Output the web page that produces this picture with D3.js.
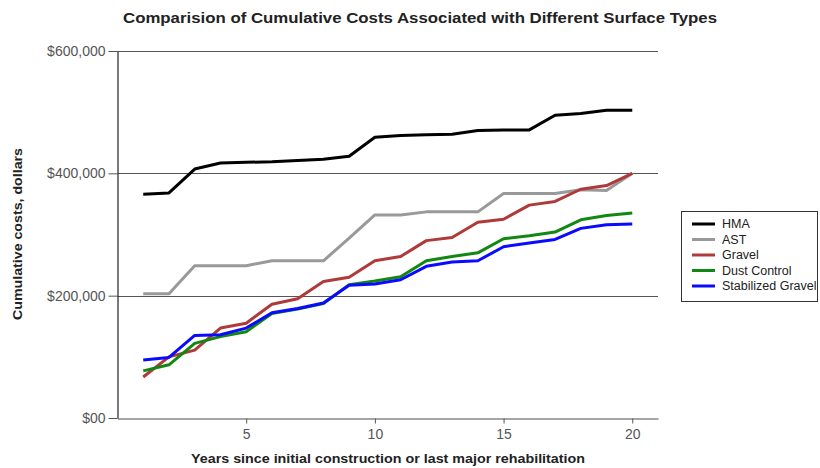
<!DOCTYPE html>
<html lang="en">
<head>
  <meta charset="UTF-8">
  <title>Cumulative Costs by Surface Type</title>
  <script src="https://d3js.org/d3.v7.min.js"></script>
  <style>
    body {
      margin: 0;
      padding: 0;
      background: #fff;
      font-family: 'Liberation Sans', Arial, sans-serif;
    }
    svg text { fill: #222; }
    .tick-label { fill: #555; }
  </style>
</head>
<body>
  <div id="chart"></div>

  <script>
    // Years on the x axis
    const years = [1, 2, 3, 4, 5, 6, 7, 8, 9, 10, 11, 12, 13, 14, 15, 16, 17, 18, 19, 20];

    // Cumulative costs, dollars
    const hma = [366000, 368000, 407000, 417000, 418000, 419000, 421000, 423000, 428000, 459000,
                 462000, 463000, 464000, 470000, 471000, 471000, 495000, 498000, 503000, 503000];
    const ast = [203000, 203000, 249000, 249000, 249000, 257000, 257000, 257000, 294000, 332000,
                 332000, 337000, 337000, 337000, 367000, 367000, 367000, 373000, 372000, 400000];
    const gravel = [67000, 100000, 111000, 147000, 155000, 186000, 195000, 223000, 230000, 257000,
                    264000, 290000, 295000, 320000, 325000, 348000, 354000, 374000, 380000, 400000];
    const dustControl = [77000, 87000, 122000, 133000, 141000, 171000, 178000, 187000, 218000, 224000,
                         231000, 257000, 264000, 270000, 293000, 298000, 304000, 324000, 331000, 335000];
    const stabilizedGravel = [95000, 99000, 135000, 136000, 147000, 172000, 179000, 188000, 217000, 219000,
                              226000, 248000, 255000, 257000, 280000, 286000, 292000, 310000, 316000, 317000];

    const seriesNames = ["HMA", "AST", "Gravel", "Dust Control", "Stabilized Gravel"];
    const seriesColors = ["#000000", "#999999", "#b03a3a", "#118811", "#0a0aff"];
    const seriesValues = [hma, ast, gravel, dustControl, stabilizedGravel];

    const xTicks = [5, 10, 15, 20];
    const yTicks = [0, 200000, 400000, 600000];
    const yTickLabels = ["$00", "$200,000", "$400,000", "$600,000"];

    const title = "Comparision of Cumulative Costs Associated with Different Surface Types";
    const xTitle = "Years since initial construction or last major rehabilitation";
    const yTitle = "Cumulative costs, dollars";

    const W = 820, H = 468;
    const svg = d3.select("#chart").append("svg")
      .attr("width", W)
      .attr("height", H);

    const plot = { left: 117.5, right: 658, top: 51, bottom: 418 };

    const x = d3.scaleLinear().domain([0, 21]).range([plot.left, plot.right]);
    const y = d3.scaleLinear().domain([0, 600000]).range([plot.bottom, plot.top]);

    // title (the original's bold face runs wider than Liberation, so stretch it)
    svg.append("text")
      .attr("x", 420)
      .attr("y", 23)
      .attr("text-anchor", "middle")
      .attr("textLength", 594)
      .attr("lengthAdjust", "spacingAndGlyphs")
      .style("font-size", "15px")
      .style("font-weight", "bold")
      .text(title);

    // horizontal grid lines
    svg.append("g")
      .selectAll("line")
      .data(yTicks.filter(d => d > 0))
      .enter().append("line")
      .attr("x1", plot.left)
      .attr("x2", plot.right)
      .attr("y1", d => Math.round(y(d)) + 0.5)
      .attr("y2", d => Math.round(y(d)) + 0.5)
      .attr("stroke", "#555")
      .attr("stroke-width", 1.2);

    // x axis
    const xAxis = svg.append("g")
      .attr("transform", "translate(0," + (plot.bottom + 0.5) + ")")
      .call(d3.axisBottom(x).tickValues(xTicks).tickSize(5).tickPadding(6).tickSizeOuter(0));
    xAxis.select(".domain").attr("stroke", "#888").attr("stroke-width", 1.5);
    xAxis.selectAll(".tick line").attr("stroke", "#555");
    xAxis.selectAll(".tick text")
      .attr("class", "tick-label")
      .style("font-size", "14px")
      .style("font-family", "'Liberation Sans', Arial, sans-serif");

    // y axis
    const yAxis = svg.append("g")
      .attr("transform", "translate(" + plot.left + ",0)")
      .call(d3.axisLeft(y).tickValues(yTicks)
        .tickFormat((d, i) => yTickLabels[i])
        .tickSize(9).tickPadding(3).tickSizeOuter(0));
    yAxis.select(".domain").attr("stroke", "#222").attr("stroke-width", 1.2);
    yAxis.selectAll(".tick line").attr("stroke", "#555");
    yAxis.selectAll(".tick text")
      .attr("class", "tick-label")
      .style("font-size", "14px")
      .style("font-family", "'Liberation Sans', Arial, sans-serif");

    // axis titles
    svg.append("text")
      .attr("x", 388)
      .attr("y", 463)
      .attr("text-anchor", "middle")
      .attr("textLength", 394)
      .attr("lengthAdjust", "spacingAndGlyphs")
      .style("font-size", "13.5px")
      .style("font-weight", "bold")
      .text(xTitle);

    svg.append("text")
      .attr("transform", "translate(22,234) rotate(-90)")
      .attr("text-anchor", "middle")
      .attr("textLength", 172)
      .attr("lengthAdjust", "spacingAndGlyphs")
      .style("font-size", "13px")
      .style("font-weight", "bold")
      .text(yTitle);

    // lines
    const line = d3.line()
      .x((d, i) => x(years[i]))
      .y(d => y(d));

    svg.append("g")
      .selectAll("path")
      .data(seriesValues)
      .enter().append("path")
      .attr("d", line)
      .attr("fill", "none")
      .attr("stroke", (d, i) => seriesColors[i])
      .attr("stroke-width", 3)
      .attr("stroke-linejoin", "round");

    // legend
    const legend = svg.append("g");
    legend.append("rect")
      .attr("x", 681.5)
      .attr("y", 211.5)
      .attr("width", 136)
      .attr("height", 90)
      .attr("fill", "#fff")
      .attr("stroke", "#333");

    const item = legend.selectAll("g")
      .data(seriesNames)
      .enter().append("g")
      .attr("transform", (d, i) => "translate(0," + (224 + i * 15.5) + ")");
    item.append("line")
      .attr("x1", 692)
      .attr("x2", 715)
      .attr("stroke", (d, i) => seriesColors[i])
      .attr("stroke-width", 3);
    item.append("text")
      .attr("x", 722)
      .attr("dy", "0.35em")
      .style("font-size", "12.5px")
      .text(d => d);
  </script>
</body>
</html>
